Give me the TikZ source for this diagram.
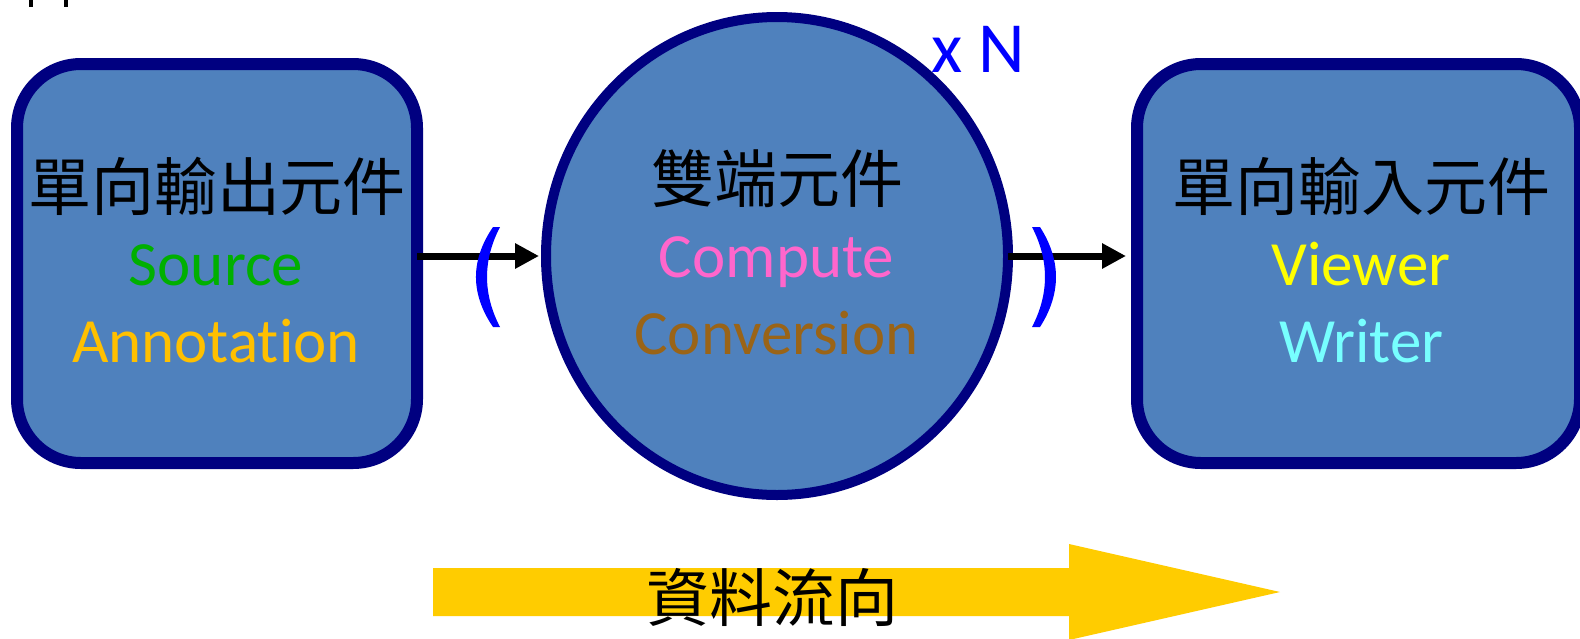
\documentclass[tikz,border=0pt]{standalone}
\usepackage{fontspec}
\setmainfont{Carlito}[Ligatures=NoCommon]
\newfontfamily\cjk{Noto Sans CJK TC}
\usetikzlibrary{shapes.geometric,arrows.meta}
\definecolor{boxfill}{HTML}{4F81BD}
\definecolor{navyline}{HTML}{000080}
\definecolor{srcgreen}{HTML}{00B000}
\definecolor{annoorange}{HTML}{FFC000}
\definecolor{comppink}{HTML}{FF66CC}
\definecolor{convbrown}{HTML}{9A6417}
\definecolor{viewyellow}{HTML}{FFFF00}
\definecolor{writecyan}{HTML}{77FFFF}
\definecolor{flowyellow}{HTML}{FFCC00}
\begin{document}
\begin{tikzpicture}[x=1pt,y=-1pt,
  compbox/.style={draw=navyline, fill=boxfill, line width=12pt, rounded corners=64pt, inner sep=0pt, outer sep=0pt, minimum height=399pt},
  compcirc/.style={ellipse, draw=navyline, fill=boxfill, line width=10pt, inner sep=0pt, outer sep=0pt},
  cjklabel/.style={font=\cjk\fontsize{63}{70}\selectfont, inner sep=0pt},
  latlabel/.style={font=\fontsize{63}{70}\selectfont, inner sep=0pt, anchor=base},
  arr/.style={line width=7pt, -{Triangle[length=24pt,width=24pt]}}
]
\fill[white] (0,0) rectangle (1580,638);
\useasboundingbox (0,0) rectangle (1580,638);

% clipped marks at top-left
\draw[line width=4pt] (31,-2) -- (31,7);
\draw[line width=4pt] (66,-2) -- (66,7);

% components
\node[compbox, minimum width=400pt] (lbox) at (217,263.5) {};
\node[compcirc, minimum width=462pt, minimum height=478pt] (circ) at (777,256) {};
\node[compbox, minimum width=443pt] (rbox) at (1358.5,263.5) {};

% labels left
\node[cjklabel] (lt) at (217,186.5) {單向輸出元件};
\node[latlabel, text=srcgreen] (ls) at (216,285) {Source};
\node[latlabel, text=annoorange] (la) at (216,362) {Annotation};

% labels circle
\node[cjklabel] (ct) at (777.5,178.5) {雙端元件};
\node[latlabel, text=comppink] (cc) at (776.5,277) {Compute};
\node[latlabel, text=convbrown] (cv) at (776.5,354) {Conversion};

% labels right
\node[cjklabel] (rt) at (1361.5,186.5) {單向輸入元件};
\node[latlabel, text=viewyellow] (rv) at (1361,285) {Viewer};
\node[latlabel, text=writecyan] (rw) at (1361.5,362) {Writer};

% x N
\node[font=\fontsize{72}{80}\selectfont, text=blue, anchor=base, inner sep=0pt] (xn) at (978,72) {x N};

% connectors
\draw[arr, shorten >=7pt] (lbox.east |- circ.west) -- (circ.west);
\draw[arr, shorten >=11pt] (circ.east) -- (rbox.west |- circ.east);

% parentheses
\fill[blue] (493,227) .. controls (470.3,260.3) and (470.3,293.7) .. (493,327) -- (500,327) .. controls (482.7,293.7) and (482.7,260.3) .. (500,227) -- cycle;
\fill[blue] (1040,227) .. controls (1061.3,260.3) and (1061.3,293.7) .. (1040,327) -- (1032,327) .. controls (1049.3,293.7) and (1049.3,260.3) .. (1032,227) -- cycle;

% data flow arrow
\fill[flowyellow] (433,568) -- (1069,568) -- (1069,544) -- (1280,592) -- (1069,640) -- (1069,616) -- (433,616) -- cycle;
\node[cjklabel] (flow) at (772,597) {資料流向};
\end{tikzpicture}
\end{document}
